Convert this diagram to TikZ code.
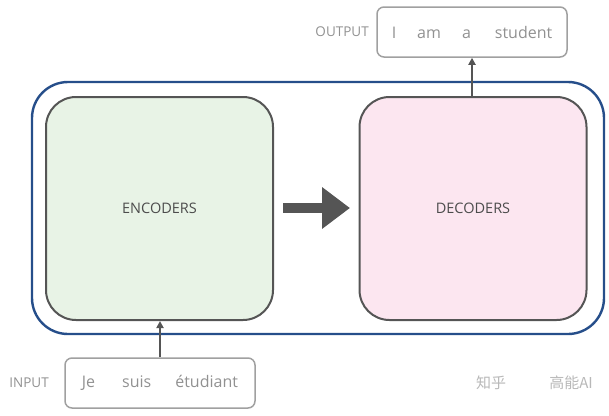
\documentclass[tikz,border=0pt]{standalone}
\usepackage{fontspec}
\setmainfont{Open Sans}
\newfontfamily\cjk{Noto Sans CJK SC}
\usetikzlibrary{arrows.meta,positioning}
\definecolor{outerblue}{RGB}{38,78,138}
\definecolor{boxgray}{RGB}{85,85,85}
\definecolor{encfill}{RGB}{232,243,230}
\definecolor{decfill}{RGB}{252,230,240}
\definecolor{wordgray}{RGB}{145,145,145}
\definecolor{ioframe}{RGB}{160,160,160}
\begin{document}
\begin{tikzpicture}[x=1pt,y=-1pt,
  outerbox/.style={draw=outerblue,line width=2.4pt,rounded corners=36pt},
  stack/.style={draw=boxgray,line width=2pt,rounded corners=30pt,minimum width=227pt,minimum height=223pt,font=\fontsize{14.5}{16}\selectfont,text=boxgray!90!black},
  iobox/.style={draw=ioframe,line width=1.5pt,rounded corners=7pt,minimum width=190pt,minimum height=50pt,text=wordgray,font=\fontsize{16}{18}\selectfont},
  iolabel/.style={text=wordgray,font=\fontsize{13.5}{15}\selectfont},
  link/.style={draw=boxgray,line width=2pt,-{Triangle[length=7pt,width=7pt]}},
  wmark/.style={text=black!28,font=\cjk\fontsize{15}{17}\selectfont}
]
\useasboundingbox (0,0) rectangle (609,415);
\draw[outerbox] (32,82) rectangle (604,334);
\node[stack,fill=encfill] (enc) at (159.5,208.5) {ENCODERS};
\node[stack,fill=decfill] (dec) at (473,208.5) {DECODERS};
\node[iobox] (out) at (472,32) {I\hspace{21pt}am\hspace{21pt}a\hspace{24pt}student};
\node[iobox] (in) at (160,383) {Je\hspace{27pt}suis\hspace{24pt}étudiant};
\node[iolabel,left=4pt of out] (outl) {OUTPUT};
\node[iolabel,left=12pt of in] (inl) {INPUT};
\draw[link] (dec.north -| out.south) -- (out.south);
\draw[link] (in.north) -- (in.north |- enc.south);
\coordinate (a1) at (283,208);
\coordinate (a2) at (350,208);
\draw[draw=boxgray,line width=10pt,-{Triangle[length=28pt,width=40pt]}] (a1) -- (a2);
\node[wmark] (zh) at (491,383) {知乎};
\node[wmark] (zh2) at (571,383) {高能AI};
\end{tikzpicture}
\end{document}
